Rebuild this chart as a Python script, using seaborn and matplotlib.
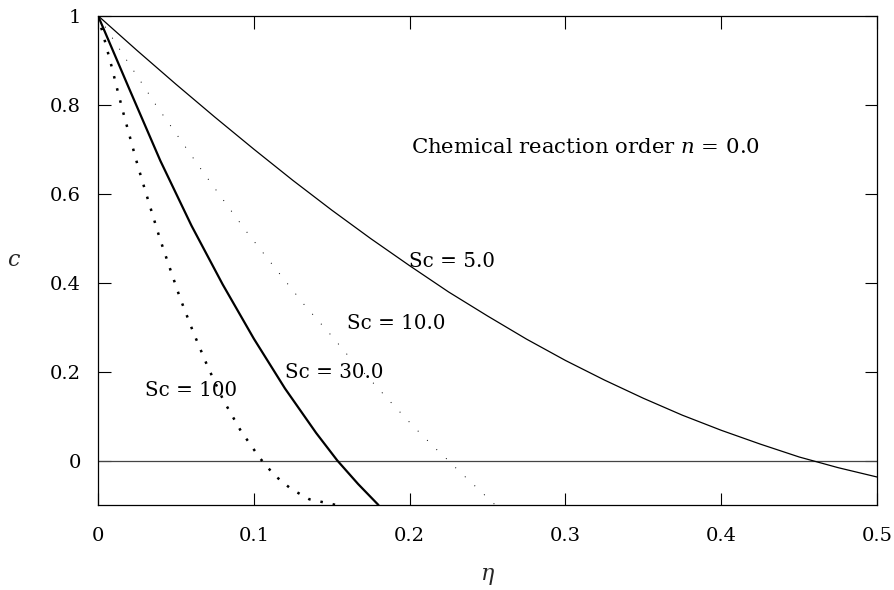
import matplotlib
matplotlib.use("Agg")
import matplotlib.pyplot as plt
import seaborn as sns
import pandas as pd

# ---- data ----
eta_sc5 = [0, 0.025, 0.05, 0.075, 0.1, 0.125, 0.15, 0.175, 0.2, 0.225, 0.25,
           0.275, 0.3, 0.325, 0.35, 0.375, 0.4, 0.425, 0.45, 0.475, 0.5]
c_sc5 = [1, 0.922, 0.846, 0.772, 0.700, 0.630, 0.563, 0.499, 0.438, 0.379, 0.325,
         0.273, 0.225, 0.181, 0.140, 0.102, 0.068, 0.037, 0.008, -0.016, -0.037]

eta_sc10 = [0, 0.0094, 0.0184, 0.028, 0.0372, 0.0469, 0.0565, 0.0661, 0.0762, 0.0864,
            0.0965, 0.1172, 0.1329, 0.15, 0.1607, 0.1778, 0.1895, 0.2009, 0.2067,
            0.2187, 0.2249, 0.2309, 0.2431, 0.255]
c_sc10 = [1, 0.949, 0.900, 0.849, 0.799, 0.751, 0.703, 0.655, 0.606, 0.557,
          0.509, 0.417, 0.348, 0.280, 0.235, 0.170, 0.125, 0.0825, 0.0616,
          0.020, 0.0, -0.021, -0.061, -0.1]

eta_sc30 = [0, 0.02, 0.04, 0.06, 0.08, 0.10, 0.12, 0.14, 0.1536, 0.167, 0.180]
c_sc30 = [1, 0.836, 0.674, 0.528, 0.396, 0.274, 0.162, 0.062, 0.0, -0.053, -0.1]

eta_sc100 = [0, 0.0045, 0.0088, 0.0126, 0.0169, 0.0212, 0.0255, 0.0302, 0.0349, 0.0396,
             0.0447, 0.0526, 0.0612, 0.0704, 0.0804, 0.0916, 0.104, 0.1132, 0.124,
             0.1356, 0.149, 0.153]
c_sc100 = [1, 0.942, 0.885, 0.831, 0.773, 0.718, 0.663, 0.608, 0.554, 0.500,
           0.447, 0.366, 0.288, 0.211, 0.136, 0.067, 0.005, -0.033, -0.064,
           -0.087, -0.097, -0.1]

x_ticks = [0, 0.1, 0.2, 0.3, 0.4, 0.5]
x_tick_labels = ["0", "0.1", "0.2", "0.3", "0.4", "0.5"]
y_ticks = [0, 0.2, 0.4, 0.6, 0.8, 1]
y_tick_labels = ["0", "0.2", "0.4", "0.6", "0.8", "1"]

series_labels = ["Sc = 5.0", "Sc = 10.0", "Sc = 30.0", "Sc = 100"]
annotation = "Chemical reaction order $n$ = 0.0"

# ---- styling ----
sns.set_style("ticks")
plt.rcParams["font.family"] = ["DejaVu Serif"]
plt.rcParams["mathtext.fontset"] = "dejavuserif"

fig = plt.figure(figsize=(8.95, 5.90), dpi=100)
ax = fig.add_axes([0.1095, 0.144, 0.8705, 0.8294])

def frame(eta, c):
    return pd.DataFrame({"eta": eta, "c": c})

ax.axhline(0, color="#444444", lw=0.9, zorder=1)

sns.lineplot(data=frame(eta_sc5, c_sc5), x="eta", y="c", ax=ax, color="black",
             lw=0.9, estimator=None, sort=False)
sns.lineplot(data=frame(eta_sc10, c_sc10), x="eta", y="c", ax=ax, color="black",
             lw=0.7, linestyle=(0, (1, 12.5)), estimator=None, sort=False)
sns.lineplot(data=frame(eta_sc30, c_sc30), x="eta", y="c", ax=ax, color="black",
             lw=1.6, estimator=None, sort=False)
sns.lineplot(data=frame(eta_sc100, c_sc100), x="eta", y="c", ax=ax, color="black",
             lw=1.8, linestyle=(0, (1, 4)), estimator=None, sort=False)

ax.set_xlim(0, 0.5)
ax.set_ylim(-0.1, 1)
ax.set_xticks(x_ticks)
ax.set_xticklabels(x_tick_labels)
ax.set_yticks(y_ticks)
ax.set_yticklabels(y_tick_labels)
ax.tick_params(direction="in", length=9, width=0.8, top=True, right=True,
               labelsize=14, colors="black")
ax.tick_params(axis="x", pad=16)
ax.tick_params(axis="y", pad=12.5)
for s in ax.spines.values():
    s.set_linewidth(0.9)
    s.set_color("black")

ax.set_xlabel(r"$\eta$", fontsize=16)
ax.set_ylabel(r"$c$", fontsize=16, rotation=0)
ax.xaxis.set_label_coords(0.5, -0.145)
ax.xaxis.label.set_va("center")
ax.yaxis.set_label_coords(-0.108, 0.5)
ax.yaxis.label.set_va("center")
ax.yaxis.label.set_ha("center")

txt_kw = dict(fontsize=14.3, ha="left", va="center", color="black")
ax.text(0.1996, 0.4465, series_labels[0], **txt_kw)
ax.text(0.1598, 0.309, series_labels[1], **txt_kw)
ax.text(0.120, 0.199, series_labels[2], **txt_kw)
ax.text(0.0302, 0.157, series_labels[3], **txt_kw)
ax.text(0.2009, 0.703, annotation, fontsize=15.3, ha="left", va="center", color="black")

fig.savefig("out.png", dpi=100)
